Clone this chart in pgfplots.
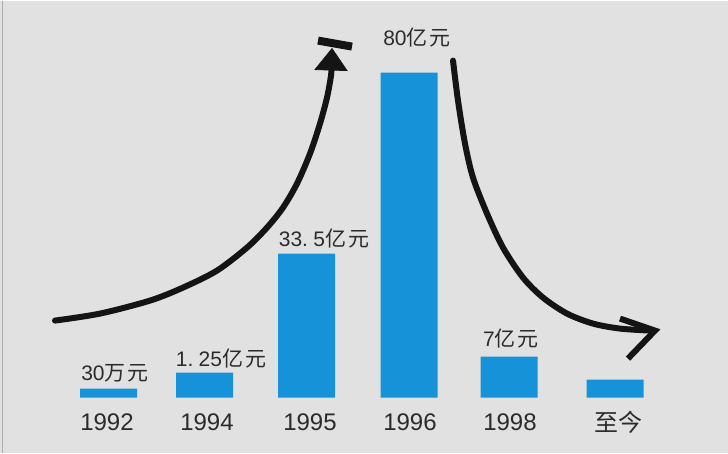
\documentclass[border=0pt]{standalone}
\usepackage{fontspec}
\setmainfont{Liberation Sans}
\newfontfamily\cjk{Noto Sans CJK SC}
\usepackage{pgfplots}
\pgfplotsset{compat=1.18}
\definecolor{bg}{HTML}{E2E1E2}
\definecolor{barblue}{HTML}{1592D8}
\definecolor{txt}{HTML}{2B2B2B}
\begin{document}
\begin{tikzpicture}
\begin{axis}[
 scale only axis, width=364pt, height=226pt,
 xmin=0, xmax=728, ymin=-55, ymax=397,
 axis background/.style={fill=bg},
 axis line style={draw=none},
 ytick=\empty,
 xtick={107,207,310,410,510,618},
 xticklabels={1992,1994,1995,1996,1998,{\cjk 至今}},
 major tick length=0pt,
 xticklabel style={anchor=center, yshift=15.25pt, font=\fontsize{12}{14}\selectfont, text=txt},
 clip=false
]
% bars (heights in picture units)
\addplot[ybar, bar width=57, bar shift=0pt, fill=barblue, draw=none] coordinates {
 (108.5,9) (204.5,25) (306.5,144) (409,325) (509,41) (615,18)};
% left border
\addplot[draw=gray!65, line width=0.6pt] coordinates {(2.5,-55) (2.5,397)};
% rising arrow
\addplot[smooth, tension=0.5, black!92, line width=3pt, line cap=round] coordinates {
 (55,77) (100,84) (150,97) (183,110) (217,127) (247,150) (267,170) (283,190) (297,214) (310,244) (320,274) (327,300) (331,322) (332,336)};
\addplot[fill=black!92, draw=black!92] coordinates {(332,349) (315,328) (347,327)} -- cycle;
\addplot[black!92, line width=4pt] coordinates {(318,357) (352,351)};
% falling arrow
\addplot[smooth, tension=0.5, black!92, line width=3pt, line cap=round] coordinates {
 (453,337) (458,297) (465,254) (473,220) (487,184) (503,150) (523,120) (543,100) (567,84) (593,74) (620,69) (650,67)};
\addplot[black!92, line width=3pt, line join=miter] coordinates {(620,79) (655,67) (628,39)};
% value labels
\begin{scope}[every node/.style={font=\fontsize{10.5}{12}\selectfont, text=txt, inner sep=0pt}]
\node at (axis cs:115,24) {30{\cjk 万\hspace{0.1em}元}};
\node at (axis cs:221,39) {1.\hspace{0.25em}25{\cjk 亿\hspace{0.1em}元}};
\node at (axis cs:324,159) {33.\hspace{0.25em}5{\cjk 亿\hspace{0.1em}元}};
\node at (axis cs:417,360) {80{\cjk 亿\hspace{0.1em}元}};
\node at (axis cs:511,59) {7{\cjk 亿\hspace{0.1em}元}};
\end{scope}
\end{axis}
\end{tikzpicture}
\end{document}
